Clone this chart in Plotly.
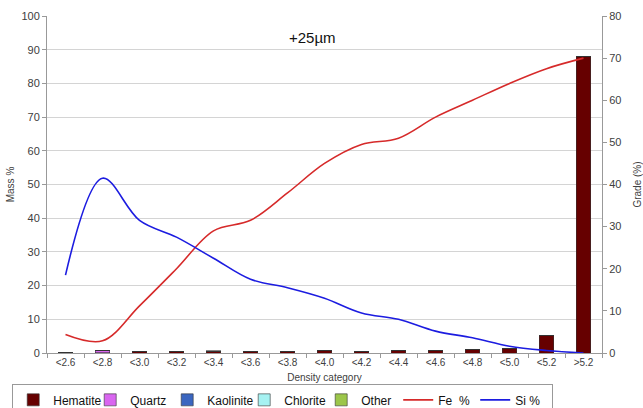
import plotly.graph_objects as go

categories = ["<2.6", "<2.8", "<3.0", "<3.2", "<3.4", "<3.6", "<3.8", "<4.0",
              "<4.2", "<4.4", "<4.6", "<4.8", "<5.0", "<5.2", ">5.2"]

# Mass % per mineral (stacked columns, left axis)
hematite = [0.05, 0.1, 0.4, 0.4, 0.5, 0.5, 0.5, 0.6, 0.5, 0.7, 0.8, 1.0, 1.4, 5.3, 88.0]
quartz = [0.1, 0.6, 0.1, 0.1, 0.05, 0.05, 0.03, 0.02, 0.02, 0.02, 0.01, 0.01, 0.0, 0.0, 0.0]
kaolinite = [0.05, 0.05, 0.05, 0.05, 0.03, 0.02, 0.02, 0.02, 0.01, 0.01, 0.01, 0.0, 0.0, 0.0, 0.0]
chlorite = [0.02, 0.02, 0.02, 0.02, 0.01, 0.01, 0.01, 0.0, 0.0, 0.0, 0.0, 0.0, 0.0, 0.0, 0.0]
other = [0.02, 0.02, 0.02, 0.02, 0.01, 0.01, 0.01, 0.0, 0.0, 0.0, 0.0, 0.0, 0.0, 0.0, 0.0]

# Grade % (right axis)
fe_grade = [4.4, 2.9, 11.2, 20.0, 29.0, 31.5, 38.0, 45.0, 49.5, 51.0, 56.0, 60.0, 64.0, 67.5, 70.0]
si_grade = [18.5, 41.5, 31.5, 27.5, 22.5, 17.5, 15.5, 13.0, 9.5, 8.0, 5.2, 3.6, 1.6, 0.6, 0.0]

bar_series = [
    ("Hematite", hematite, "#660000"),
    ("Quartz", quartz, "#d966f0"),
    ("Kaolinite", kaolinite, "#3b66c0"),
    ("Chlorite", chlorite, "#a6f2f2"),
    ("Other", other, "#9cc64a"),
]

font_family = "Liberation Sans, Arial, sans-serif"
text_color = "#404040"

fig = go.Figure()
for name, vals, color in bar_series:
    fig.add_trace(go.Bar(
        x=categories, y=vals, name=name,
        marker=dict(color=color, line=dict(color="#333333", width=0.6)),
    ))

fig.add_trace(go.Scatter(
    x=categories, y=fe_grade, name="Fe\u00a0 %", yaxis="y2", mode="lines",
    line=dict(color="#d62a2a", width=1.6, shape="spline", smoothing=1.0),
))
fig.add_trace(go.Scatter(
    x=categories, y=si_grade, name="Si %", yaxis="y2", mode="lines",
    line=dict(color="#1c1ce0", width=1.6, shape="spline", smoothing=1.0),
))

fig.add_annotation(
    text="+25µm", x=0.479, y=0.967, xref="paper", yref="paper",
    showarrow=False, font=dict(size=15, color="#111111", family=font_family),
)

fig.update_layout(
    width=643, height=408,
    margin=dict(l=47, r=41, t=16, b=55),
    paper_bgcolor="white", plot_bgcolor="white",
    barmode="stack", bargap=0.6,
    font=dict(family=font_family, size=11, color=text_color),
    xaxis=dict(
        type="category", showline=True, linecolor="#999999", linewidth=1,
        ticks="outside", ticklen=4, tickcolor="#999999", tickson="boundaries",
        tickfont=dict(size=10, color=text_color), automargin=False,
        title=dict(text="Density category", font=dict(size=10), standoff=6),
        showgrid=False,
    ),
    yaxis=dict(
        range=[0, 100], dtick=10, showline=True, linecolor="#999999",
        ticks="outside", ticklen=4, tickcolor="#999999",
        gridcolor="#d4d4d4", gridwidth=1, zeroline=False, automargin=False,
        tickfont=dict(size=11, color=text_color),
        title=dict(text="Mass %", font=dict(size=10), standoff=4),
    ),
    yaxis2=dict(
        range=[0, 80], dtick=10, overlaying="y", side="right",
        showline=True, linecolor="#999999", ticks="outside", ticklen=4,
        tickcolor="#999999", showgrid=False, zeroline=False, automargin=False,
        tickfont=dict(size=11, color=text_color),
        title=dict(text="Grade (%)", font=dict(size=10), standoff=14),
    ),
    legend=dict(
        orientation="h", xref="container", yref="container",
        x=0.019, xanchor="left", y=0.058, yanchor="top",
        bordercolor="#999999", borderwidth=1, bgcolor="white",
        font=dict(size=12, color="#111111"), traceorder="normal",
        entrywidth=32, entrywidthmode="pixels",
    ),
    showlegend=True,
)

fig.write_html("out.html")
